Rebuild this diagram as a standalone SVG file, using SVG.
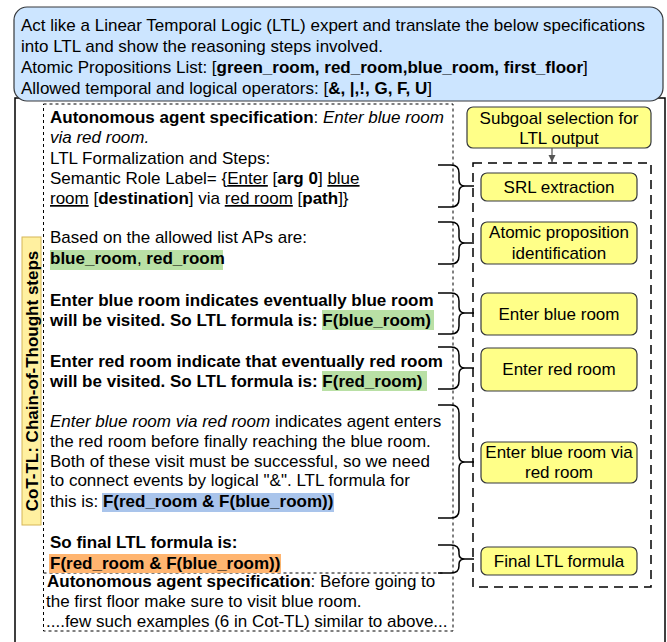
<svg xmlns="http://www.w3.org/2000/svg" width="667" height="642" viewBox="0 0 667 642">
<style>
text{font-family:"Liberation Sans",Arial,sans-serif;font-size:17px;fill:#000}
.b{font-weight:bold}
.i{font-style:italic}
.u{text-decoration:underline}
.c{text-anchor:middle}
.yb{fill:#ffff88;stroke:#36393d;stroke-width:1.2}
.brace{fill:none;stroke:#000;stroke-width:1.5}
</style>
<defs>
<marker id="ah" markerWidth="8" markerHeight="8" refX="7" refY="4" orient="auto" markerUnits="userSpaceOnUse">
<path d="M0,0.5 L7,4 L0,7.5 Z" fill="#555"/>
</marker>
</defs>
<rect width="667" height="642" fill="#fff"/>
<!-- outer solid frame -->
<rect x="15" y="98" width="650" height="560" fill="none" stroke="#000" stroke-width="1.5"/>
<!-- prompt box -->
<g id="prompt">
<rect x="14" y="7" width="649" height="94" rx="13" fill="#cce5ff" stroke="#36393d" stroke-width="1.2"/>
<text x="21" y="31">Act like a Linear Temporal Logic (LTL) expert and translate the below specifications</text>
<text x="21" y="52">into LTL and show the reasoning steps involved.</text>
<text x="21" y="73">Atomic Propositions List: [<tspan class="b">green_room, red_room,blue_room, first_floor</tspan>]</text>
<text x="21" y="94">Allowed temporal and logical operators: [<tspan class="b">&amp;, |,!, G, F, U</tspan>]</text>
</g>
<!-- CoT text block -->
<g id="cot-text">
<rect x="43.5" y="104" width="409.5" height="527" fill="none" stroke="#000" stroke-width="1" stroke-dasharray="3,3"/>
<line x1="43.5" y1="573" x2="445" y2="573" stroke="#000" stroke-width="1" stroke-dasharray="3,3"/>
<rect x="50" y="250" width="173" height="20" fill="#b9e0a5"/>
<rect x="322" y="310" width="112" height="20" fill="#b9e0a5"/>
<rect x="322" y="371" width="105" height="20" fill="#b9e0a5"/>
<rect x="102" y="493" width="232" height="19" fill="#a9c4eb"/>
<rect x="49" y="554" width="232" height="19" fill="#ffb570"/>
<text x="50" y="123"><tspan class="b">Autonomous agent specification</tspan>: <tspan class="i">Enter blue room</tspan></text>
<text x="50" y="143" class="i">via red room.</text>
<text x="50" y="164">LTL Formalization and Steps:</text>
<text x="50" y="184">Semantic Role Label= {<tspan class="u">Enter</tspan> [<tspan class="b">arg 0</tspan>] <tspan class="u">blue</tspan></text>
<text x="50" y="204"><tspan class="u">room</tspan> [<tspan class="b">destination</tspan>] via <tspan class="u">red room</tspan> [<tspan class="b">path</tspan>]}</text>
<text x="50" y="243">Based on the allowed list APs are:</text>
<text x="50" y="264"><tspan class="b">blue_room</tspan>, <tspan class="b">red_room</tspan></text>
<text x="50" y="306" class="b">Enter blue room indicates eventually blue room</text>
<text x="50" y="326" class="b">will be visited. So LTL formula is: F(blue_room)</text>
<text x="50" y="367" class="b">Enter red room indicate that eventually red room</text>
<text x="50" y="387" class="b">will be visited. So LTL formula is: F(red_room)</text>
<text x="50" y="427"><tspan class="i">Enter blue room via red room</tspan> indicates agent enters</text>
<text x="50" y="447">the red room before finally reaching the blue room.</text>
<text x="50" y="467">Both of these visit must be successful, so we need</text>
<text x="50" y="486">to connect events by logical "&amp;". LTL formula for</text>
<text x="50" y="507">this is: <tspan class="b">F(red_room &amp; F(blue_room))</tspan></text>
<text x="50" y="548" class="b">So final LTL formula is:</text>
<text x="50" y="569" class="b">F(red_room &amp; F(blue_room))</text>
<text x="47" y="587"><tspan class="b">Autonomous agent specification</tspan>: Before going to</text>
<text x="46" y="607">the first floor make sure to visit blue room.</text>
<text x="46" y="627">....few such examples (6 in Cot-TL) similar to above...</text>
</g>
<!-- vertical label -->
<g id="cot-label">
<rect x="22" y="237" width="19" height="288" fill="#fff0a0" stroke="#d6b656" stroke-width="1"/>
<text class="b c" transform="translate(31.5,381) rotate(-90)" x="0" y="6">CoT-TL: Chain-of-Thought steps</text>
</g>
<!-- subgoal dashed container -->
<rect id="subgoal-container" x="473" y="163" width="178" height="424" fill="none" stroke="#000" stroke-width="1.5" stroke-dasharray="9,6"/>
<g id="subgoal-selection">
<rect class="yb" x="467" y="107" width="184" height="41" rx="6"/>
<text class="c" x="559" y="124">Subgoal selection for</text>
<text class="c" x="559" y="144">LTL output</text>
</g>
<g id="srl">
<rect class="yb" x="481" y="173" width="156" height="28" rx="6"/>
<text class="c" x="559" y="193">SRL extraction</text>
</g>
<g id="ap">
<rect class="yb" x="481" y="222" width="156" height="42" rx="6"/>
<text class="c" x="559" y="238">Atomic proposition</text>
<text class="c" x="559" y="259">identification</text>
</g>
<g id="blue">
<rect class="yb" x="481" y="293" width="156" height="42" rx="6"/>
<text class="c" x="559" y="320">Enter blue room</text>
</g>
<g id="red">
<rect class="yb" x="481" y="348" width="156" height="43" rx="6"/>
<text class="c" x="559" y="375">Enter red room</text>
</g>
<g id="via">
<rect class="yb" x="481" y="442" width="156" height="41" rx="6"/>
<text class="c" x="559" y="458">Enter blue room via</text>
<text class="c" x="559" y="478">red room</text>
</g>
<g id="final">
<rect class="yb" x="481" y="547" width="156" height="28" rx="6"/>
<text class="c" x="559" y="567">Final LTL formula</text>
</g>
<!-- connectors -->
<g id="connectors">
<line x1="552" y1="148" x2="552" y2="162" stroke="#555" stroke-width="1.2" marker-end="url(#ah)"/>
<path class="brace" d="M438,165 H451 Q459,165 459,173 V180 Q459,186 465,186 H474 M465,186 Q459,186 459,192 V199 Q459,207 451,207 H438"/>
<path class="brace" d="M438,222 H451 Q459,222 459,230 V237 Q459,243 465,243 H474 M465,243 Q459,243 459,249 V256 Q459,264 451,264 H438"/>
<path class="brace" d="M438,293 H451 Q459,293 459,301 V307 Q459,313 465,313 H474 M465,313 Q459,313 459,319 V326 Q459,334 451,334 H438"/>
<path class="brace" d="M438,347 H451 Q459,347 459,355 V362 Q459,368 465,368 H474 M465,368 Q459,368 459,374 V381 Q459,389 451,389 H438"/>
<path class="brace" d="M438,405 H451 Q459,405 459,413 V456 Q459,462 465,462 H474 M465,462 Q459,462 459,468 V510 Q459,518 451,518 H438"/>
<path class="brace" d="M438,545 H451 Q459,545 459,552 V554 Q459,559 465,559 H474 M465,559 Q459,559 459,564 V566 Q459,573 451,573 H438"/>
</g>
</svg>
